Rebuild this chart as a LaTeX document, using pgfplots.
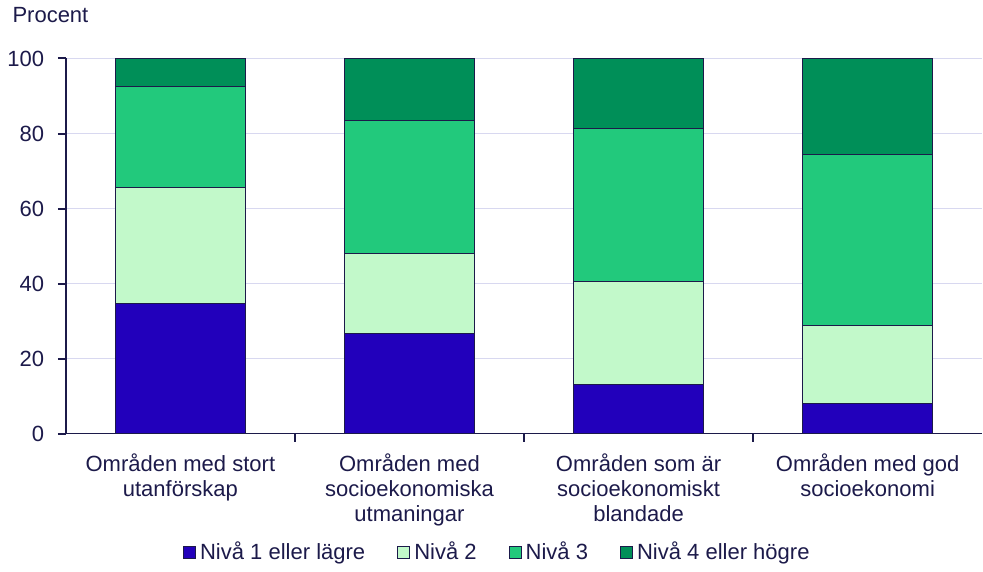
\documentclass[border=0pt]{standalone}
\usepackage{pgfplots}
\pgfplotsset{compat=1.18}
\usepackage{fontspec}
\setmainfont{Liberation Sans}
\definecolor{niva1}{HTML}{2200BB}
\definecolor{niva2}{HTML}{C2F9CA}
\definecolor{niva3}{HTML}{22C97C}
\definecolor{niva4}{HTML}{008F58}
\definecolor{txt}{HTML}{1C1A4A}
\definecolor{gridc}{HTML}{D8D8F0}
\begin{document}
\fontsize{11}{12.5}\selectfont
\begin{tikzpicture}
\begin{axis}[
    scale only axis,
    width=458pt, height=187.5pt,
    ybar stacked,
    bar width=65pt,
    xmin=-0.5, xmax=3.5,
    ymin=0, ymax=100,
    ytick={0,20,...,100},
    /pgf/number format/assume math mode=true,
    xtick={0.5,1.5,2.5},
    xticklabels={},
    extra x ticks={0,1,2,3},
    extra x tick labels={{Områden med stort\\utanförskap},{Områden med\\socioekonomiska\\utmaningar},{Områden som är\\socioekonomiskt\\blandade},{Områden med god\\socioekonomi}},
    extra x tick style={major tick length=0pt, grid=none, xticklabel style={align=center, text=txt, font=\fontsize{11}{12.5}\selectfont, yshift=-6pt}},
    axis x line*=bottom,
    axis y line*=left,
    axis line style={draw=txt, line width=0.8pt, -},
    ymajorgrids,
    grid style={draw=gridc, line width=0.8pt},
    tick align=outside,
    major tick length=4pt,
    tick style={draw=txt, line width=1pt},
    yticklabel style={text=txt, font=\fontsize{11}{12.5}\selectfont, xshift=-3pt},
    every axis y label/.style={at={(axis description cs:0,1)}, anchor=base west, xshift=-30.5pt, yshift=18pt, text=txt},
    ylabel={Procent},
    legend style={draw=none, at={(0.472,-0.317)}, anchor=center, legend columns=4, text=txt, font=\fontsize{11}{12.5}\selectfont, /tikz/every even column/.append style={column sep=14pt}},
    legend image code/.code={\draw[#1, draw=txt, line width=0.5pt] (0pt,-3pt) rectangle (6pt,3pt);},
    every axis plot/.append style={draw=txt, line width=0.5pt},
    clip=false,
]
\addplot[fill=niva1] coordinates {(0,34.7) (1,26.7) (2,13.1) (3,8.0)};
\addplot[fill=niva2] coordinates {(0,30.9) (1,21.3) (2,27.4) (3,20.8)};
\addplot[fill=niva3] coordinates {(0,26.9) (1,35.5) (2,40.8) (3,45.6)};
\addplot[fill=niva4] coordinates {(0,7.5) (1,16.5) (2,18.7) (3,25.6)};
\legend{Nivå 1 eller lägre, Nivå 2, Nivå 3, Nivå 4 eller högre}
\end{axis}
\end{tikzpicture}
\end{document}
